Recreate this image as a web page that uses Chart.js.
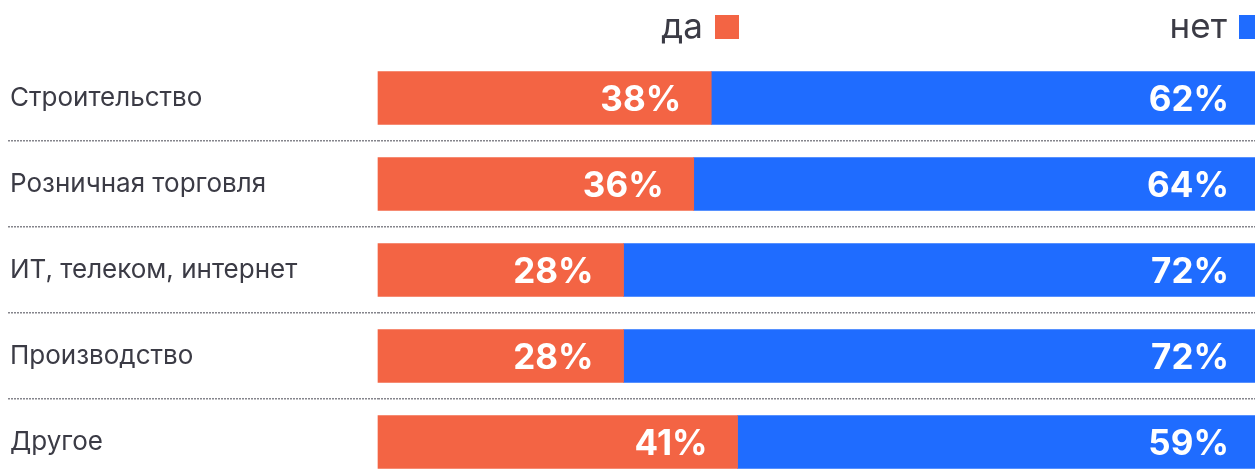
<!DOCTYPE html>
<html lang="ru">
<head>
<meta charset="utf-8">
<title>Да / нет по отраслям</title>
<script src="https://cdn.jsdelivr.net/npm/chart.js@4.4.1/dist/chart.umd.min.js"></script>
<style>
  html, body { margin: 0; padding: 0; background: #ffffff; }
  #wrap { position: relative; width: 1255px; height: 471px; }
  canvas { display: block; }
</style>
</head>
<body>
<div id="wrap"><canvas id="chart" width="1255" height="471"></canvas></div>
<script>
// Categories and answer shares (percent)
const categories = [
  'Строительство',
  'Розничная торговля',
  'ИТ, телеком, интернет',
  'Производство',
  'Другое'
];
const seriesNames = ['да', 'нет'];
const yesValues = [38, 36, 28, 28, 41];
const noValues = [62, 64, 72, 72, 59];

const COLORS = ['#F36444', '#1F6CFF'];
const TEXT = '#3b3b45';
const FONT = 'Inter, "Noto Sans", sans-serif';

// Legend: label text followed by a colour square, placed at the top
const legendAtTop = {
  id: 'legendAtTop',
  afterDraw(chart, args, opts) {
    const ctx = chart.ctx;
    ctx.save();
    ctx.font = opts.fontSize + 'px ' + FONT;
    ctx.textBaseline = 'alphabetic';
    chart.data.datasets.forEach((ds, i) => {
      const sx = opts.squareX[i];
      ctx.fillStyle = TEXT;
      ctx.textAlign = 'right';
      ctx.fillText(ds.label, sx - opts.gap, opts.baseline);
      ctx.fillStyle = ds.backgroundColor;
      ctx.fillRect(sx, opts.squareY, opts.size, opts.size);
    });
    ctx.restore();
  }
};

// White percentage labels at the inner end of every segment
const segmentLabels = {
  id: 'segmentLabels',
  afterDatasetsDraw(chart, args, opts) {
    const ctx = chart.ctx;
    ctx.save();
    ctx.font = 'bold ' + opts.fontSize + 'px ' + FONT;
    ctx.fillStyle = '#ffffff';
    ctx.textAlign = 'right';
    ctx.textBaseline = 'middle';
    chart.data.datasets.forEach((ds, di) => {
      const meta = chart.getDatasetMeta(di);
      meta.data.forEach((bar, i) => {
        ctx.fillText(ds.data[i] + '%', bar.x - opts.pad[di], bar.y + 2);
      });
    });
    ctx.restore();
  }
};

new Chart(document.getElementById('chart'), {
  type: 'bar',
  data: {
    labels: categories,
    datasets: [
      { label: seriesNames[0], data: yesValues, backgroundColor: COLORS[0] },
      { label: seriesNames[1], data: noValues, backgroundColor: COLORS[1] }
    ].map(d => Object.assign(d, { barThickness: 53, borderWidth: 0, clip: false }))
  },
  options: {
    indexAxis: 'y',
    responsive: false,
    animation: false,
    devicePixelRatio: 1,
    layout: { padding: { top: 98, bottom: 29, left: 10, right: 0 } },
    scales: {
      x: {
        stacked: true,
        min: 0,
        max: 100,
        display: false
      },
      y: {
        stacked: true,
        offset: false,
        afterFit(scale) { scale.width = 368; },
        ticks: {
          crossAlign: 'far',
          color: TEXT,
          font: { family: FONT, size: 26 },
          padding: 0
        },
        grid: {
          offset: true,
          drawOnChartArea: true,
          drawTicks: true,
          tickLength: 370,
          color: '#85858c',
          tickColor: '#85858c',
          lineWidth: 1.5,
          tickWidth: 1.5,
          tickBorderDash: [2, 1]
        },
        border: { display: false, dash: [2, 1] }
      }
    },
    plugins: {
      legend: { display: false },
      tooltip: { enabled: false },
      legendAtTop: { fontSize: 35, baseline: 38, squareX: [715, 1239], squareY: 15, size: 24, gap: 12 },
      segmentLabels: { fontSize: 35, pad: [30, 26] }
    }
  },
  plugins: [legendAtTop, segmentLabels]
});
</script>
</body>
</html>
